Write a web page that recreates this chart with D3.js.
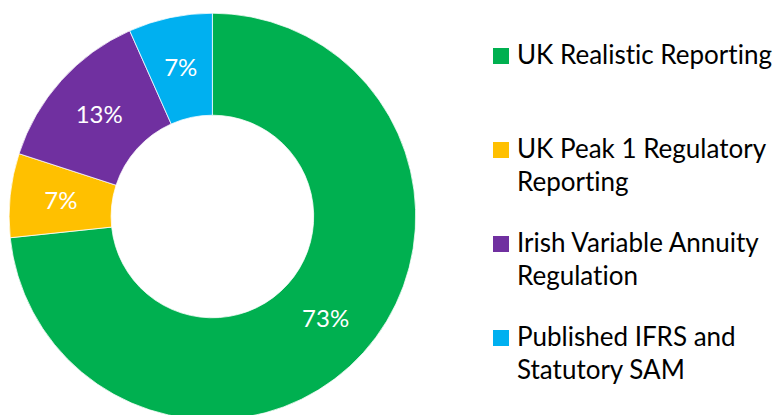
<!DOCTYPE html>
<html>
<head>
<meta charset="utf-8">
<script src="https://cdn.jsdelivr.net/npm/d3@7"></script>
<style>
  body { margin: 0; background: #fff; }
  text { font-family: Lato, "Open Sans", sans-serif; font-variant-ligatures: none; }
</style>
</head>
<body>
<script>
var width = 781,
    height = 415;

// data, clockwise from 12 o'clock
var categories = ["UK Realistic Reporting", "UK Peak 1 Regulatory Reporting",
                  "Irish Variable Annuity Regulation", "Published IFRS and Statutory SAM"];
var values = [11, 1, 2, 1];
var legendLines = [["UK Realistic Reporting"],
                   ["UK Peak 1 Regulatory", "Reporting"],
                   ["Irish Variable Annuity", "Regulation"],
                   ["Published IFRS and", "Statutory SAM"]];
var colors = ["#00B050", "#FFC000", "#7030A0", "#00B0F0"];

var cx = 212.4, cy = 216.5,
    outerR = 203.3, innerR = 101.3;

var svg = d3.select("body").append("svg")
    .attr("width", width)
    .attr("height", height);

var total = d3.sum(values);
var pie = d3.pie().sort(null).value(function(d) { return d; });
var arc = d3.arc().innerRadius(innerR).outerRadius(outerR);

var g = svg.append("g")
    .attr("transform", "translate(" + cx + "," + cy + ")");

var slices = g.selectAll("g.slice")
    .data(pie(values))
    .enter().append("g")
        .attr("class", "slice");

slices.append("path")
    .attr("d", arc)
    .attr("fill", function(d, i) { return colors[i]; })
    .attr("stroke", "#fff")
    .attr("stroke-width", 0.75);

slices.append("text")
    .attr("transform", function(d) { return "translate(" + arc.centroid(d) + ")"; })
    .attr("dy", "0.35em")
    .attr("text-anchor", "middle")
    .attr("fill", "#fff")
    .style("font-size", "24px")
    .text(function(d) { return Math.round(d.value / total * 100) + "%"; });

// legend
var legend = svg.append("g")
    .attr("transform", "translate(493,0)");

var item = legend.selectAll("g.item")
    .data(legendLines)
    .enter().append("g")
        .attr("class", "item")
        .attr("transform", function(d, i) { return "translate(0," + (64 + i * 94) + ")"; });

item.append("rect")
    .attr("x", 0)
    .attr("y", -16)
    .attr("width", 16)
    .attr("height", 16)
    .attr("fill", function(d, i) { return colors[i]; });

item.append("text")
    .attr("x", 24)
    .attr("y", 0)
    .attr("fill", "#000")
    .style("font-size", "26px")
    .selectAll("tspan")
    .data(function(d) { return d; })
    .enter().append("tspan")
        .attr("x", 24)
        .attr("dy", function(d, i) { return i ? 33 : 0; })
        .text(function(d) { return d; });
</script>
</body>
</html>
